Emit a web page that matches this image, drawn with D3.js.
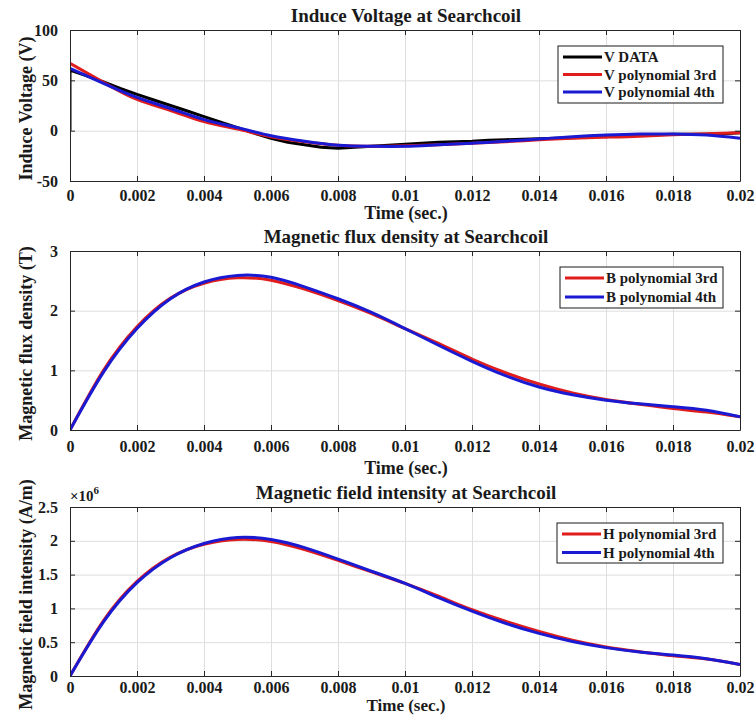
<!DOCTYPE html>
<html>
<head>
<meta charset="utf-8">
<script src="https://cdn.jsdelivr.net/npm/d3@7"></script>
<style>
  body { margin: 0; background: #fff; }
  svg text { font-family: "Liberation Serif", "DejaVu Serif", serif; font-weight: bold; fill: #1a1a1a; }
</style>
</head>
<body>
<svg id="chart" width="755" height="715"></svg>
<script>
// time ticks and sample times (sec.)
const xTicks = [0, 0.002, 0.004, 0.006, 0.008, 0.01, 0.012, 0.014, 0.016, 0.018, 0.02];
const tFit = [0, 0.001, 0.002, 0.003, 0.004, 0.005, 0.006, 0.007, 0.008, 0.009, 0.01,
              0.011, 0.012, 0.013, 0.014, 0.015, 0.016, 0.017, 0.018, 0.019, 0.02];

const tData = [0, 0, 0.0005, 0.001, 0.0015, 0.002, 0.0025, 0.003, 0.0035, 0.004, 0.0045, 0.005,
               0.0055, 0.006, 0.0065, 0.007, 0.0075, 0.008, 0.0085, 0.009, 0.0095, 0.01,
               0.0105, 0.011, 0.0115, 0.012, 0.0125, 0.013, 0.0135, 0.014, 0.0145, 0.015,
               0.0155, 0.016, 0.0165, 0.017, 0.0175, 0.018, 0.0185, 0.019, 0.0195, 0.02];
const vData = [0, 60, 54.5, 48.5, 42, 36, 30.5, 25, 19.5, 14, 8.5, 3,
               -2.5, -7.5, -11.5, -14, -16.5, -17.5, -16.5, -15.5, -14.5, -13.5,
               -12.5, -11.5, -11, -10.5, -9.5, -9, -8.5, -8, -7.5, -7,
               -6, -5.5, -5, -4.5, -4, -3.5, -3.5, -3.5, -3, -2];
const v3rd = [67, 48, 31, 20, 9, 1.5, -6, -11, -14.5, -15.5, -15, -14, -12.5, -11, -9, -7.5, -6.5, -5.5, -4, -3, -2];
const v4th = [62, 47, 33, 22, 11, 3, -5, -10.5, -14.5, -15.5, -15.5, -14, -12.5, -10.5, -8.3, -6, -4.3, -3.3, -3.3, -4.3, -7.5];

// flux density (T)
const b3rd = [0, 1.00, 1.73, 2.21, 2.46, 2.55, 2.51, 2.36, 2.17, 1.95, 1.70, 1.45, 1.19, 0.96, 0.77, 0.62, 0.51, 0.43, 0.36, 0.30, 0.22];
const b4th = [0, 0.97, 1.70, 2.20, 2.48, 2.59, 2.56, 2.40, 2.20, 1.97, 1.70, 1.42, 1.15, 0.91, 0.72, 0.59, 0.50, 0.44, 0.39, 0.33, 0.22];

// field intensity (x10^6 A/m)
const h3rd = [0, 0.82, 1.40, 1.76, 1.95, 2.02, 1.99, 1.87, 1.71, 1.54, 1.37, 1.18, 0.98, 0.81, 0.66, 0.53, 0.43, 0.36, 0.30, 0.25, 0.17];
const h4th = [0, 0.80, 1.38, 1.75, 1.96, 2.05, 2.02, 1.90, 1.73, 1.55, 1.37, 1.16, 0.96, 0.78, 0.63, 0.51, 0.42, 0.355, 0.31, 0.255, 0.17];

const yTicksV = [-50, 0, 50, 100];
const yTicksB = [0, 1, 2, 3];
const yTicksH = [0, 0.5, 1, 1.5, 2, 2.5];

const RED = "#e01c1c", BLUE = "#1a1ad2", BLACK = "#000";
const FONT = '"Liberation Serif", "DejaVu Serif", serif';

const svg = d3.select("#chart");
svg.append("rect").attr("width", 755).attr("height", 715).attr("fill", "#fff");

const x = d3.scaleLinear().domain([0, 0.02]).range([70, 740]);

const panels = [
  { top: 30, bottom: 181, domain: [-50, 100], ticks: yTicksV,
    title: "Induce Voltage at Searchcoil", titleY: 22, ylabel: "Induce Voltage (V)",
    tickY: 201, xlabY: 219, xlabSize: 18,
    series: [
      { t: tData, v: vData, color: BLACK, w: 3, name: "V DATA", curve: d3.curveLinear },
      { t: tFit, v: v3rd, color: RED, w: 3, name: "V polynomial 3rd", curve: d3.curveNatural },
      { t: tFit, v: v4th, color: BLUE, w: 3, name: "V polynomial 4th", curve: d3.curveNatural }
    ],
    legend: { x: 558, y: 46, w: 165, h: 57, row: 17.5 } },
  { top: 251, bottom: 430, domain: [0, 3], ticks: yTicksB,
    title: "Magnetic flux density at Searchcoil", titleY: 243, ylabel: "Magnetic flux density (T)",
    tickY: 452, xlabY: 474, xlabSize: 18,
    series: [
      { t: tFit, v: b3rd, color: RED, w: 3, name: "B polynomial 3rd", curve: d3.curveNatural },
      { t: tFit, v: b4th, color: BLUE, w: 3, name: "B polynomial 4th", curve: d3.curveNatural }
    ],
    legend: { x: 560, y: 267, w: 163, h: 41, row: 19 } },
  { top: 507, bottom: 676, domain: [0, 2.5], ticks: yTicksH,
    title: "Magnetic field intensity at Searchcoil", titleY: 499, ylabel: "Magnetic field intensity (A/m)",
    tickY: 693, xlabY: 711, xlabSize: 17, exp: true,
    series: [
      { t: tFit, v: h3rd, color: RED, w: 3, name: "H polynomial 3rd", curve: d3.curveNatural },
      { t: tFit, v: h4th, color: BLUE, w: 3, name: "H polynomial 4th", curve: d3.curveNatural }
    ],
    legend: { x: 557, y: 523, w: 166, h: 40, row: 18.5 } }
];

const fmtX = d => d === 0 ? "0" : String(+d.toFixed(3));

panels.forEach((p, i) => {
  const y = d3.scaleLinear().domain(p.domain).range([p.bottom, p.top]);
  const g = svg.append("g");
  const h = p.bottom - p.top;

  // grid
  g.append("g").attr("transform", `translate(0,${p.bottom})`)
    .call(d3.axisBottom(x).tickValues(xTicks).tickSize(-h).tickFormat(""))
    .call(a => a.select(".domain").remove())
    .call(a => a.selectAll("line").attr("stroke", "#dedede"));
  g.append("g").attr("transform", "translate(70,0)")
    .call(d3.axisLeft(y).tickValues(p.ticks).tickSize(-670).tickFormat(""))
    .call(a => a.select(".domain").remove())
    .call(a => a.selectAll("line").attr("stroke", "#dedede"));

  // lines
  const clipId = "clip" + i;
  svg.append("clipPath").attr("id", clipId)
    .append("rect").attr("x", 70).attr("y", p.top).attr("width", 670).attr("height", h);
  const lg = g.append("g").attr("clip-path", `url(#${clipId})`);
  p.series.forEach(s => {
    const pts = s.t.map((t, k) => [t, s.v[k]]);
    lg.append("path").datum(pts)
      .attr("fill", "none").attr("stroke", s.color).attr("stroke-width", s.w)
      .attr("stroke-linejoin", "round")
      .attr("d", d3.line().x(d => x(d[0])).y(d => y(d[1])).curve(s.curve));
  });

  // axes box with inward ticks
  const styleAx = a => {
    a.attr("font-family", FONT);
    a.select(".domain").attr("stroke", "#262626");
    a.selectAll(".tick line").attr("stroke", "#262626");
    a.selectAll("text").attr("font-size", 16).attr("font-weight", "bold").attr("fill", "#1a1a1a");
  };
  g.append("g").attr("transform", `translate(0,${p.bottom})`)
    .call(d3.axisBottom(x).tickValues(xTicks).tickSize(-5).tickSizeOuter(0).tickPadding(0).tickFormat(fmtX))
    .call(styleAx)
    .call(a => a.selectAll("text").attr("y", p.tickY - p.bottom).attr("dy", 0));
  g.append("g").attr("transform", `translate(0,${p.top})`)
    .call(d3.axisTop(x).tickValues(xTicks).tickSize(-5).tickSizeOuter(0).tickFormat(""))
    .call(styleAx);
  g.append("g").attr("transform", "translate(70,0)")
    .call(d3.axisLeft(y).tickValues(p.ticks).tickSize(-5).tickSizeOuter(0).tickPadding(12).tickFormat(d => String(d)))
    .call(styleAx);
  g.append("g").attr("transform", "translate(740,0)")
    .call(d3.axisRight(y).tickValues(p.ticks).tickSize(-5).tickSizeOuter(0).tickFormat(""))
    .call(styleAx);

  // titles and labels
  g.append("text").attr("x", 406).attr("y", p.titleY).attr("text-anchor", "middle")
    .attr("font-size", 19).text(p.title);
  g.append("text").attr("x", 406).attr("y", p.xlabY).attr("text-anchor", "middle")
    .attr("font-size", p.xlabSize).text("Time (sec.)");
  g.append("text").attr("transform", `translate(32,${(p.top + p.bottom) / 2 + 3}) rotate(-90)`)
    .attr("text-anchor", "middle").attr("font-size", 18).text(p.ylabel);
  if (p.exp) {
    const e = g.append("text").attr("x", 70).attr("y", p.top - 6).attr("font-size", 15);
    e.append("tspan").text("\u00d710");
    e.append("tspan").attr("dy", -7).attr("font-size", 11).text("6");
  }

  // legend
  const L = p.legend;
  const leg = g.append("g");
  leg.append("rect").attr("x", L.x).attr("y", L.y).attr("width", L.w).attr("height", L.h)
    .attr("fill", "#fff").attr("stroke", "#1a1a1a").attr("stroke-width", 1);
  p.series.forEach((s, k) => {
    const cy = L.y + 11 + k * L.row;
    leg.append("line").attr("x1", L.x + 5).attr("x2", L.x + 44).attr("y1", cy).attr("y2", cy)
      .attr("stroke", s.color).attr("stroke-width", 3);
    leg.append("text").attr("x", L.x + 46).attr("y", cy + 5).attr("font-size", 15).text(s.name);
  });
});
</script>
</body>
</html>
